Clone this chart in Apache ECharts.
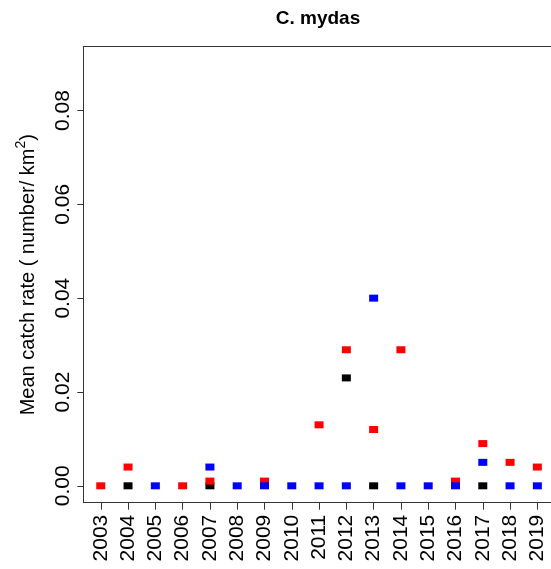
<!DOCTYPE html>
<html>
<head>
<meta charset="utf-8">
<script src="https://cdn.jsdelivr.net/npm/echarts@6/dist/echarts.min.js"></script>
<style>
html,body{margin:0;padding:0;background:#fff;}
#chart{width:551px;height:569px;}
</style>
</head>
<body>
<div id="chart"></div>
<script>
// Tick labels
const yearTicks = [2003,2004,2005,2006,2007,2008,2009,2010,2011,2012,2013,2014,2015,2016,2017,2018,2019];
const yTicks = [0, 0.02, 0.04, 0.06, 0.08];

// Series (black, red, blue)
const blackYears = [2004, 2007, 2012, 2013, 2017];
const blackVals  = [0, 0, 0.023, 0, 0];

const redYears = [2003, 2004, 2006, 2007, 2009, 2011, 2012, 2013, 2014, 2016, 2017, 2018, 2019];
const redVals  = [0, 0.004, 0, 0.001, 0.001, 0.013, 0.029, 0.012, 0.029, 0.001, 0.009, 0.005, 0.004];

const blueYears = [2005, 2007, 2008, 2009, 2010, 2011, 2012, 2013, 2014, 2015, 2016, 2017, 2018, 2019];
const blueVals  = [0, 0.004, 0, 0, 0, 0, 0, 0.040, 0, 0, 0, 0.005, 0, 0];

const pairs = (xs, ys) => xs.map((x, i) => [x, ys[i]]);

const FONT = '"Liberation Sans", Arial, sans-serif';
const lineCol = '#333';

const chart = echarts.init(document.getElementById('chart'), null, {renderer: 'canvas'});
const sym = {symbol: 'rect', symbolSize: [9, 7]};

chart.setOption({
  animation: false,
  backgroundColor: '#fff',
  title: {
    text: 'C. mydas',
    left: 318,
    textAlign: 'center',
    top: 9,
    padding: 0,
    textStyle: {fontFamily: FONT, fontWeight: 'bold', fontSize: 19, color: '#000'}
  },
  grid: {left: 83.3, right: 0, top: 46.7, bottom: 66.3, containLabel: false},
  xAxis: [{
    type: 'value',
    min: 2002.36,
    max: 2019.5,
    splitLine: {show: false},
    axisLine: {show: true, onZero: false, lineStyle: {color: lineCol, width: 1}},
    axisTick: {show: true, length: 7, customValues: yearTicks, lineStyle: {color: lineCol}},
    axisLabel: {
      customValues: yearTicks,
      rotate: 90,
      margin: 12,
      fontFamily: FONT,
      fontSize: 21,
      color: '#000',
      formatter: v => String(v)
    }
  }, {
    type: 'value',
    position: 'top',
    min: 2002.36,
    max: 2019.5,
    splitLine: {show: false},
    axisLine: {show: true, onZero: false, lineStyle: {color: lineCol, width: 1}},
    axisTick: {show: false},
    axisLabel: {show: false}
  }],
  yAxis: {
    type: 'value',
    min: -0.0036,
    max: 0.0936,
    splitLine: {show: false},
    axisLine: {show: true, onZero: false, lineStyle: {color: lineCol, width: 1}},
    axisTick: {show: true, length: 6, customValues: yTicks, lineStyle: {color: lineCol}},
    axisLabel: {
      customValues: yTicks,
      rotate: 90,
      margin: 10,
      fontFamily: FONT,
      fontSize: 21,
      color: '#000',
      formatter: v => v.toFixed(2)
    },
    name: '{m|Mean catch rate ( number/ km}{s|2}{m|)}',
    nameLocation: 'middle',
    nameRotate: 90,
    nameGap: 45,
    nameTextStyle: {
      fontFamily: FONT,
      color: '#000',
      rich: {
        m: {fontFamily: FONT, fontSize: 20, color: '#000', lineHeight: 24, verticalAlign: 'bottom'},
        s: {fontFamily: FONT, fontSize: 14, color: '#000', lineHeight: 24, verticalAlign: 'top'}
      }
    }
  },
  series: [
    Object.assign({type: 'scatter', name: 'black', data: pairs(blackYears, blackVals), itemStyle: {color: '#000000', opacity: 1}, z: 2}, sym),
    Object.assign({type: 'scatter', name: 'red', data: pairs(redYears, redVals), itemStyle: {color: '#ff0000', opacity: 1}, z: 3}, sym),
    Object.assign({type: 'scatter', name: 'blue', data: pairs(blueYears, blueVals), itemStyle: {color: '#0000ff', opacity: 1}, z: 4}, sym)
  ]
});
</script>
</body>
</html>
